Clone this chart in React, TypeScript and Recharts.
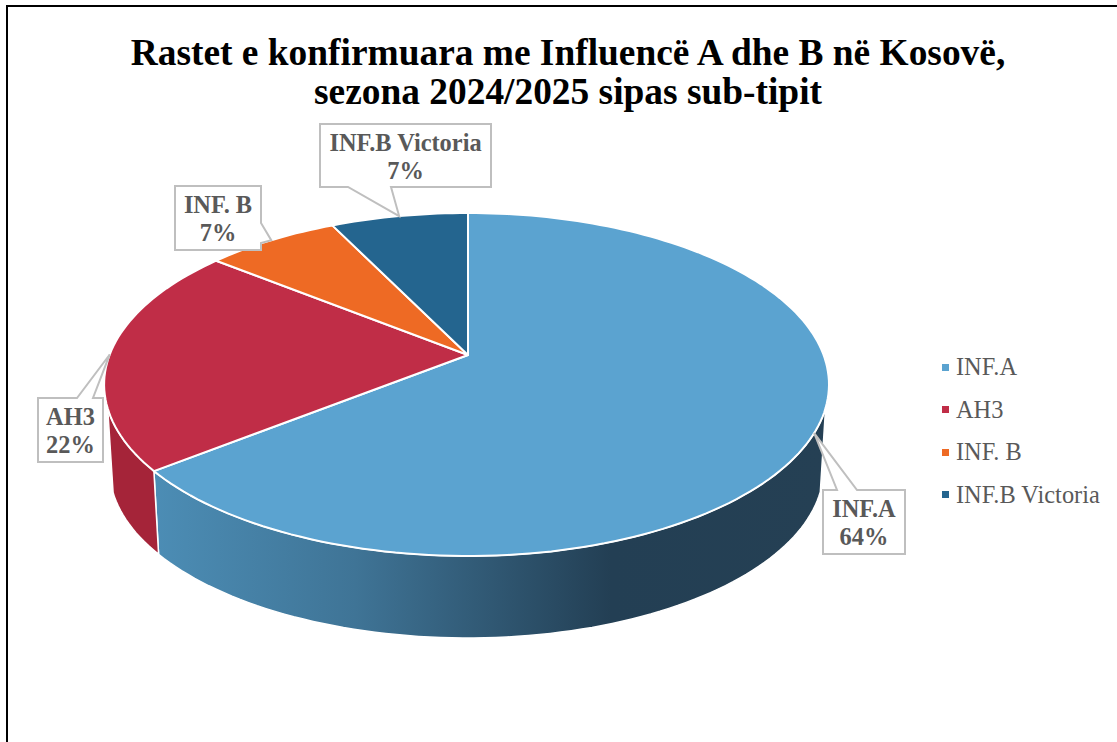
import React from "react";
import { PieChart, Pie, Legend } from "recharts";

const categories = ["INF.A", "AH3", "INF. B", "INF.B Victoria"];
const shares = [64.3, 21.5, 7.0, 7.2];
const topColors = ["#5BA3D0", "#C02D47", "#EE6A24", "#24658F"];
const wallColors = ["url(#wallA)", "#A52439", "#B0501B", "#1B4C6B"];
const titleLines = ["Rastet e konfirmuara me Influencë A dhe B në Kosovë,", "sezona 2024/2025 sipas sub-tipit"];

const table = categories.map((name, i) => ({
  name,
  value: shares[i],
  fill: topColors[i],
  wall: wallColors[i],
}));

// Perspective layout of the tilted disc
const CX = 468;
const CY = 355;
const RADIUS = 355.6;
const SQUASH = 0.468;
const TILT = 0.172;
const DEPTH = 85;
const SHRINK = 0.985;
const VISIBLE_V = 0.3;
const LEFT_STRETCH = 1.008;

// Callout boxes, in the order of the categories
const boxes = [
  { x: 823, y: 490, w: 82, h: 64, a: [837, 490], b: [857, 490] },
  { x: 38, y: 398, w: 65, h: 64, a: [77, 398], b: [93, 398] },
  { x: 175, y: 186, w: 86, h: 64, a: [261, 223], b: [261, 243] },
  { x: 320, y: 124, w: 171, h: 63, a: [348, 187], b: [391, 187] },
];

const project = (angle: number, r: number, dy = 0, scale = 1) => {
  const rad = (angle * Math.PI) / 180;
  const u = Math.cos(rad);
  const v = -Math.sin(rad);
  const d = 1 - TILT * v;
  const stretch = u < 0 ? LEFT_STRETCH : 1;
  return {
    x: CX + (r * scale * stretch * u) / d,
    y: CY + dy + (r * SQUASH * scale * v) / d,
    v,
  };
};

const rim = (a0: number, a1: number, r: number, dy = 0, scale = 1) => {
  const pts = [];
  const n = Math.max(2, Math.ceil(Math.abs(a1 - a0) / 1.5));
  for (let i = 0; i <= n; i++) pts.push(project(a0 + ((a1 - a0) * i) / n, r, dy, scale));
  return pts;
};

const toPath = (pts: { x: number; y: number }[]) =>
  pts.map((p, i) => `${i ? "L" : "M"}${p.x.toFixed(1)},${p.y.toFixed(1)}`).join(" ");

const TopShape = (p: any) => {
  const pts = rim(p.startAngle, p.endAngle, p.outerRadius);
  return <path d={`M${CX},${CY} ${toPath(pts).replace("M", "L")} Z`} fill={p.fill} stroke="#fff" strokeWidth={2} strokeLinejoin="round" />;
};

const WallShape = (p: any) => {
  const pts = rim(p.startAngle, p.endAngle, p.outerRadius);
  const idx = pts.map((q) => q.v >= VISIBLE_V);
  if (!idx.some(Boolean)) return <g />;
  const angles: number[] = [];
  const n = pts.length - 1;
  for (let i = 0; i <= n; i++) if (idx[i]) angles.push(p.startAngle + ((p.endAngle - p.startAngle) * i) / n);
  const a0 = angles[0];
  const a1 = angles[angles.length - 1];
  const top = rim(a0, a1, p.outerRadius);
  const bottom = rim(a1, a0, p.outerRadius, DEPTH, SHRINK);
  const wall = p.wall ?? p.payload?.wall;
  return <path d={`${toPath(top)} ${toPath(bottom).replace("M", "L")} Z`} fill={wall} stroke="#fff" strokeWidth={1.5} strokeLinejoin="round" />;
};

const Callout = (p: any) => {
  const box = boxes[p.index];
  const tip = project(p.midAngle, RADIUS);
  const { x, y, w, h, a, b } = box;
  const ring: number[][] = [];
  const corners = [[x, y], [x + w, y], [x + w, y + h], [x, y + h]];
  // walk the box outline and insert the pointer on the edge it leaves from
  const onTop = a[1] === y;
  const onBottom = a[1] === y + h;
  const onRight = a[0] === x + w;
  ring.push(corners[0]);
  if (onTop) ring.push(a, [tip.x, tip.y], b);
  ring.push(corners[1]);
  if (onRight) ring.push(a, [tip.x, tip.y], b);
  ring.push(corners[2]);
  if (onBottom) ring.push(b, [tip.x, tip.y], a);
  ring.push(corners[3]);
  const mid = x + w / 2;
  return (
    <g>
      <polygon points={ring.map((q) => q.join(",")).join(" ")} fill="#fff" stroke="#BFBFBF" strokeWidth={2} />
      <text x={mid} y={y + 27} textAnchor="middle" fontFamily="'Liberation Serif'" fontWeight={700} fontSize={24.4} fill="#595959">
        {p.name}
      </text>
      <text x={mid} y={y + 55} textAnchor="middle" fontFamily="'Liberation Serif'" fontWeight={700} fontSize={24.4} fill="#595959">
        {Math.round(p.percent * 100)}%
      </text>
    </g>
  );
};

const LegendList = () => (
  <div style={{ position: "relative", width: 180, height: 170 }}>
    {categories.map((name, i) => (
      <div
        key={name}
        style={{
          position: "absolute",
          left: 0,
          top: i * 42.6,
          height: 26,
          display: "flex",
          alignItems: "center",
          whiteSpace: "nowrap",
          fontFamily: "'Liberation Serif'",
          fontSize: 24.4,
          color: "#595959",
        }}
      >
        <span style={{ width: 7, height: 7, background: topColors[i], marginRight: 7, display: "inline-block" }} />
        {name}
      </div>
    ))}
  </div>
);

export default function App() {
  return (
    <div style={{ position: "absolute", left: 0, top: 0, width: 1117, height: 742, overflow: "hidden", background: "#fff" }}>
      <div style={{ position: "absolute", left: 6, top: 5, right: -4, bottom: -4, borderLeft: "2px solid #000", borderTop: "2px solid #000" }} />
      <PieChart width={1117} height={742} margin={{ top: 0, right: 0, bottom: 0, left: 0 }} style={{ position: "absolute", left: 0, top: 0 }}>
        <defs>
          <linearGradient id="wallA" x1="0" y1="0" x2="1" y2="0">
            <stop offset="0" stopColor="#4C8DB5" />
            <stop offset="0.3" stopColor="#3F7496" />
            <stop offset="0.68" stopColor="#233F54" />
            <stop offset="1" stopColor="#254054" />
          </linearGradient>
        </defs>
        <Pie
          data={table}
          dataKey="value"
          nameKey="name"
          cx={CX}
          cy={CY}
          outerRadius={RADIUS}
          startAngle={90}
          endAngle={-270}
          shape={WallShape}
          legendType="none"
          label={false}
          labelLine={false}
          paddingAngle={0}
          isAnimationActive={false}
        />
        <Pie
          data={table}
          dataKey="value"
          nameKey="name"
          cx={CX}
          cy={CY}
          outerRadius={RADIUS}
          startAngle={90}
          endAngle={-270}
          shape={TopShape}
          label={Callout}
          labelLine={false}
          paddingAngle={0}
          isAnimationActive={false}
        />
        <Legend
          layout="vertical"
          align="left"
          verticalAlign="top"
          wrapperStyle={{ left: 942, top: 354, width: 180 }}
          content={LegendList}
        />
        <text x={568} y={65} textAnchor="middle" fontFamily="'Liberation Serif'" fontWeight={700} fontSize={37.4} fill="#000">
          {titleLines[0]}
        </text>
        <text x={568} y={104} textAnchor="middle" fontFamily="'Liberation Serif'" fontWeight={700} fontSize={37.4} fill="#000">
          {titleLines[1]}
        </text>
      </PieChart>
    </div>
  );
}
